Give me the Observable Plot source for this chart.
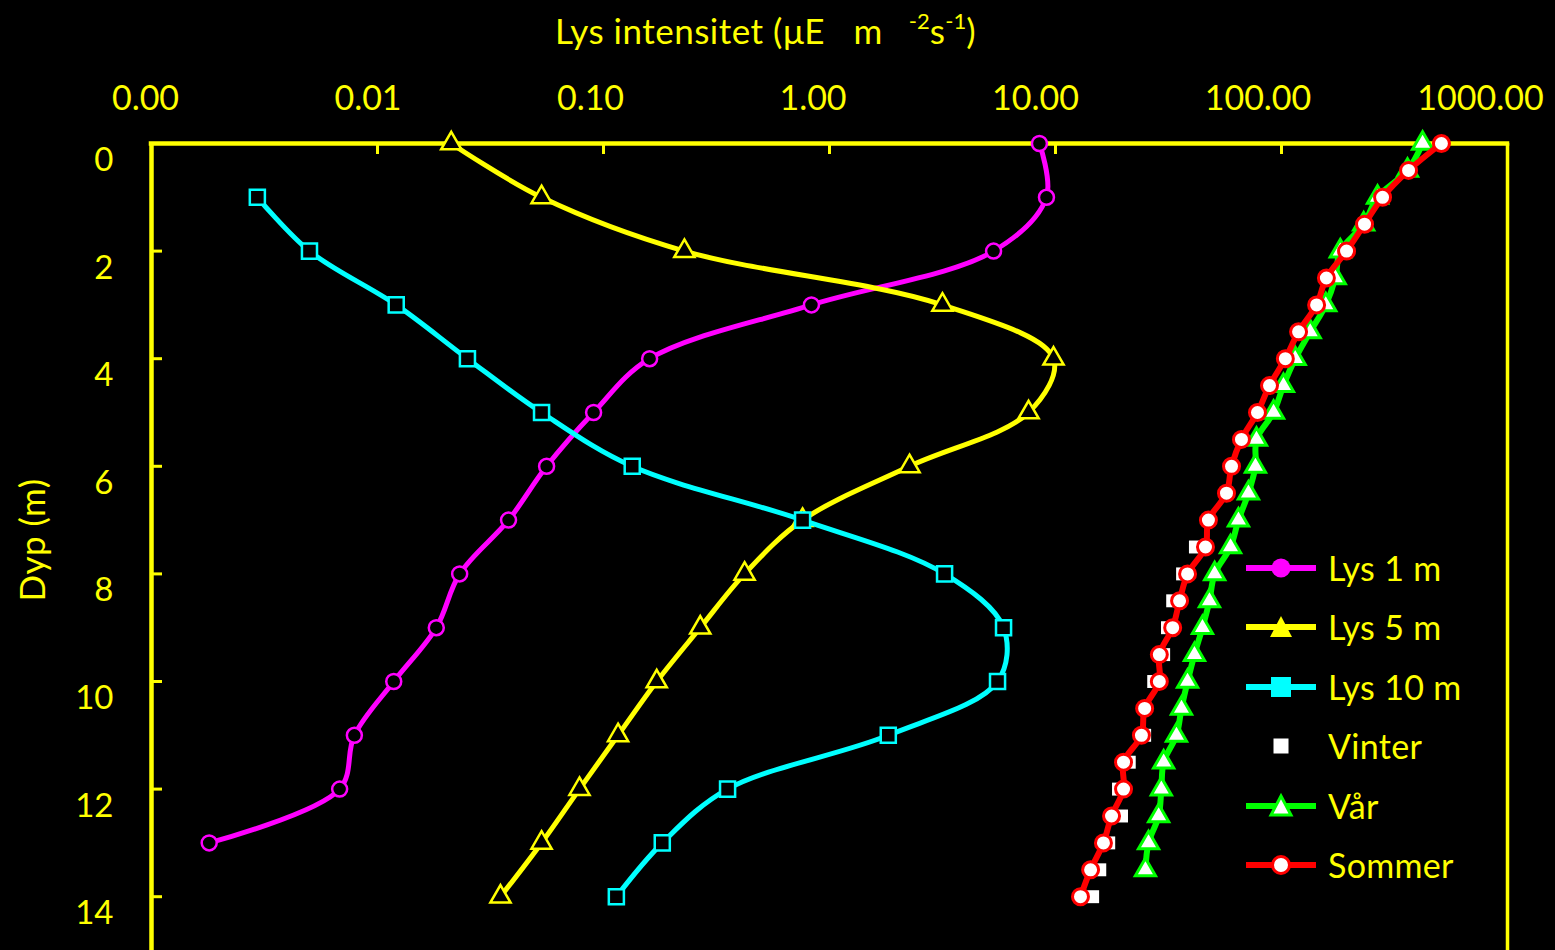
<!DOCTYPE html>
<html><head><meta charset="utf-8">
<script src="https://cdn.jsdelivr.net/npm/d3@7"></script>
<script src="https://cdn.jsdelivr.net/npm/@observablehq/plot@0.6"></script>
<style>
html,body{margin:0;padding:0;background:#000;overflow:hidden}
#wrap{position:relative;width:1555px;height:950px;background:#000;font-family:Lato,"Open Sans",sans-serif;color:#ffff00}
#title{position:absolute;left:555px;top:13px;font-size:35px;line-height:35px;white-space:nowrap;letter-spacing:0.5px}
#title sup{font-size:22px;position:relative;top:-3px;vertical-align:top;line-height:22px;letter-spacing:0}
#title .s2{margin-left:26px}
#ylab{position:absolute;left:31px;top:540px;font-size:35px;line-height:35px;white-space:nowrap;transform:translate(-50%,-50%) rotate(-90deg);letter-spacing:0.5px}
#legend{position:absolute;left:1245px;top:538px}
.row{height:59.5px;display:flex;align-items:center}
.row span{font-size:34px;margin-left:11px;line-height:34px;letter-spacing:0.3px}
</style></head><body><div id="wrap"></div>
<script>
// ---- data ----
const lys1Depth = [0,1,2,3,4,5,6,7,8,9,10,11,12,13];
const lys1 = [8.49,9.12,5.32,0.832,0.160,0.0904,0.0560,0.0380,0.0231,0.0182,0.0118,0.0079,0.0068,0.0018];
const lys5Depth = [0,1,2,3,4,5,6,7,8,9,10,11,12,13,14];
const lys5 = [0.0212,0.0532,0.228,3.16,9.80,7.60,2.26,0.760,0.421,0.268,0.172,0.116,0.0783,0.0532,0.0350];
const lys10Depth = [1,2,3,4,5,6,7,8,9,10,11,12,13,14];
const lys10 = [0.00294,0.00500,0.0121,0.0250,0.0532,0.134,0.760,3.23,5.89,5.54,1.82,0.354,0.182,0.114];
const seasonDepth = [0,0.5,1,1.5,2,2.5,3,3.5,4,4.5,5,5.5,6,6.5,7,7.5,8,8.5,9,9.5,10,10.5,11,11.5,12,12.5,13,13.5,14];
const vinter = [510,365,280,233,194,158,143,119,104,88.5,78.3,66.5,60.1,57.1,47.5,41.6,36.5,33.0,31.3,30.1,27.2,24.8,24.8,21.2,19.0,19.6,17.2,15.7,14.6];
const sommer = [510,365,280,233,194,158,143,119,104,88.5,78.3,66.5,60.1,57.1,47.5,46.1,38.4,35.4,33.0,28.8,28.8,24.8,24.0,20.0,20.0,17.7,16.3,14.3,12.9];
const vaarDepth = [0,0.5,1,1.5,2,2.5,3,3.5,4,4.5,5,5.5,6,6.5,7,7.5,8,8.5,9,9.5,10,10.5,11,11.5,12,12.5,13,13.5];
const vaar = [421,361,266,231,182,173,157,134,115,102,92.2,77.5,76.7,71.4,64.5,59.5,50.6,48.0,44.7,41.2,38.4,36.1,34.3,30.1,29.4,28.6,25.8,25.0];
const xTicks = [0.001,0.01,0.1,1,10,100,1000];
const yTicks = [0,2,4,6,8,10,12,14];
const seriesNames = ["Lys 1 m","Lys 5 m","Lys 10 m","Vinter","Vår","Sommer"];

const rows = (ds, vs) => ds.map((d, i) => ({d, v: vs[i]}));
const YEL = "#ffff00", MAG = "#ff00ff", CYA = "#00ffff", GRN = "#00ff00", RED = "#ff0000";
const W = 1555, H = 950, ML = 151, MR = 48, MT = 143, MB = 0;
const plotH = H - MT - MB, plotW = W - ML - MR;

const d1 = rows(lys1Depth, lys1), d5 = rows(lys5Depth, lys5), d10 = rows(lys10Depth, lys10);
const dv = rows(seasonDepth, vinter), dva = rows(vaarDepth, vaar), ds = rows(seasonDepth, sommer);

// top labels drift slightly left in the original (Excel layout)
const xAxes = xTicks.map((t, i) => Plot.axisX([t], {anchor: "top", tickSize: 0, tickPadding: 34, dx: -6 - 3.5 * i, tickFormat: d => d.toFixed(2), label: null, fontSize: 34, fill: YEL}));

const chart = Plot.plot({
  width: W, height: H,
  marginLeft: ML, marginRight: MR, marginTop: MT, marginBottom: MB,
  style: {background: "#000", color: YEL, fontFamily: "Lato, 'Open Sans', sans-serif", fontSize: "34px", overflow: "visible"},
  x: {type: "log", domain: [0.001, 1000]},
  y: {domain: [0, 15], reverse: true},
  marks: [
    ...xAxes,
    Plot.axisY(yTicks, {anchor: "left", tickSize: 0, tickPadding: 38, dy: 17, tickFormat: d => String(d), label: null, fontSize: 33, fill: YEL}),
    Plot.ruleY([0], {stroke: YEL, strokeWidth: 4.5, strokeLinecap: "square"}),
    Plot.ruleX([0.001], {stroke: YEL, strokeWidth: 4.5}),
    Plot.ruleX([1000], {stroke: YEL, strokeWidth: 3.5}),
    Plot.ruleX(xTicks.slice(1, -1), {stroke: YEL, strokeWidth: 3, insetBottom: plotH - 11}),
    Plot.ruleY(yTicks.slice(1), {stroke: YEL, strokeWidth: 3, insetRight: plotW - 11}),
    // Lys 1 m
    Plot.line(d1, {x: "v", y: "d", stroke: MAG, strokeWidth: 5, curve: "catmull-rom"}),
    Plot.dot(d1, {x: "v", y: "d", symbol: "circle", r: 7.5, stroke: MAG, strokeWidth: 2.5, fill: "#000"}),
    // Lys 5 m
    Plot.line(d5, {x: "v", y: "d", stroke: YEL, strokeWidth: 5, curve: "catmull-rom"}),
    Plot.dot(d5, {x: "v", y: "d", symbol: "triangle", r: 7.5, stroke: YEL, strokeWidth: 2.5, fill: "#000"}),
    // Lys 10 m
    Plot.line(d10, {x: "v", y: "d", stroke: CYA, strokeWidth: 5, curve: "catmull-rom"}),
    Plot.dot(d10, {x: "v", y: "d", symbol: "square", r: 8.5, stroke: CYA, strokeWidth: 2.5, fill: "#000"}),
    // Vinter
    Plot.dot(dv, {x: "v", y: "d", symbol: "square", r: 7.3, fill: "#ffffff", stroke: "none"}),
    // Vår
    Plot.line(dva, {x: "v", y: "d", stroke: GRN, strokeWidth: 6, curve: "catmull-rom"}),
    Plot.dot(dva, {x: "v", y: "d", symbol: "triangle", r: 7.5, stroke: GRN, strokeWidth: 3, fill: "#ffffff"}),
    // Sommer
    Plot.line(ds, {x: "v", y: "d", stroke: RED, strokeWidth: 6, curve: "catmull-rom"}),
    Plot.dot(ds, {x: "v", y: "d", symbol: "circle", r: 8, stroke: RED, strokeWidth: 3, fill: "#ffffff"})
  ]
});

const wrap = document.getElementById("wrap");
wrap.appendChild(chart);

const title = document.createElement("div");
title.id = "title";
title.innerHTML = "Lys intensitet (\u03bcE&nbsp;&nbsp; m<sup class=\"s2\">-2</sup>s<sup>-1</sup>)";
wrap.appendChild(title);

const ylab = document.createElement("div");
ylab.id = "ylab";
ylab.textContent = "Dyp (m)";
wrap.appendChild(ylab);

// legend
const sw = {
  "Lys 1 m": `<line x1="1" x2="71" y1="15" y2="15" stroke="${MAG}" stroke-width="6"/><circle cx="36" cy="15" r="9.5" fill="${MAG}"/>`,
  "Lys 5 m": `<line x1="1" x2="71" y1="15" y2="15" stroke="${YEL}" stroke-width="6"/><path d="M36,4 L47,25 L25,25 Z" fill="${YEL}"/>`,
  "Lys 10 m": `<line x1="1" x2="71" y1="15" y2="15" stroke="${CYA}" stroke-width="6"/><rect x="26" y="5" width="20" height="20" fill="${CYA}"/>`,
  "Vinter": `<rect x="28.5" y="7.5" width="15" height="15" fill="#fff"/>`,
  "Vår": `<line x1="1" x2="71" y1="15" y2="15" stroke="${GRN}" stroke-width="6"/><path d="M36,5 L46,24 L26,24 Z" fill="#fff" stroke="${GRN}" stroke-width="3"/>`,
  "Sommer": `<line x1="1" x2="71" y1="15" y2="15" stroke="${RED}" stroke-width="6"/><circle cx="36" cy="15" r="8.5" fill="#fff" stroke="${RED}" stroke-width="3"/>`
};
const legend = document.createElement("div");
legend.id = "legend";
legend.innerHTML = seriesNames.map(n => `<div class="row"><svg width="72" height="30">${sw[n]}</svg><span>${n}</span></div>`).join("");
wrap.appendChild(legend);
</script></body></html>
